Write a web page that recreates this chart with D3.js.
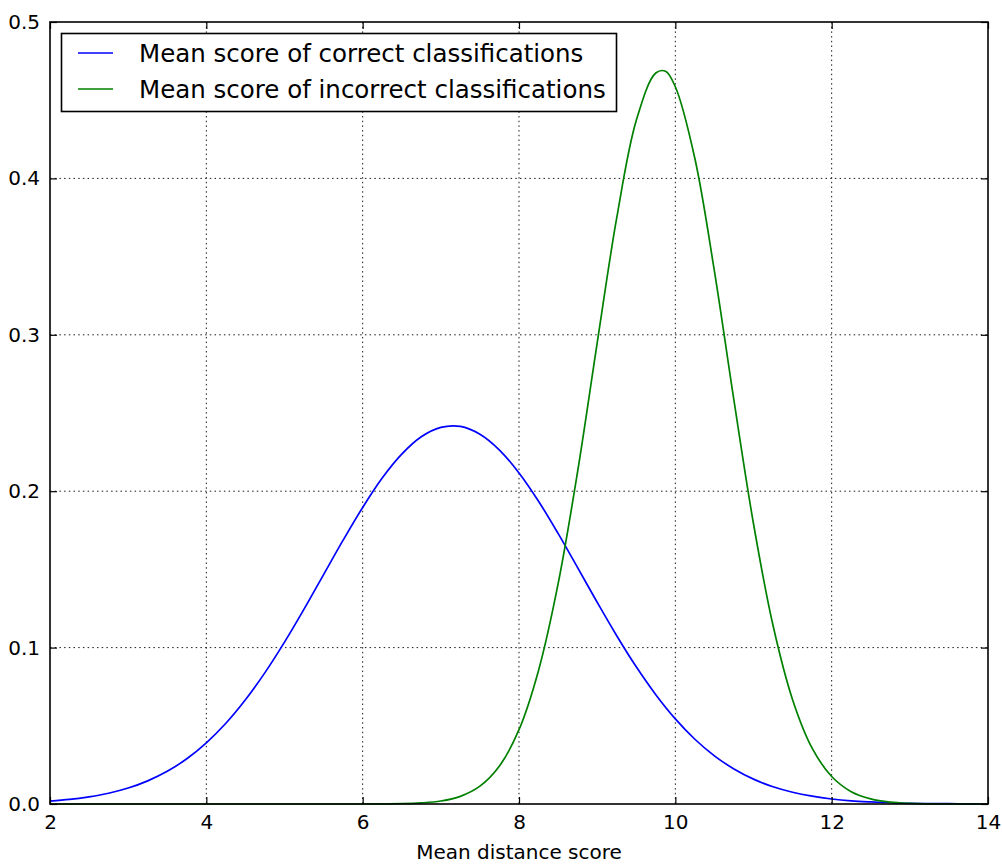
<!DOCTYPE html>
<html>
<head>
<meta charset="utf-8">
<script src="https://cdn.jsdelivr.net/npm/d3@7"></script>
<style>
  body { margin: 0; background: #fff; }
  svg text { font-family: "DejaVu Sans", sans-serif; fill: #000; }
</style>
</head>
<body>
<div id="chart"></div>
<script>
// values
const correctX = [2, 2.25, 2.5, 2.75, 3, 3.25, 3.5, 3.75, 4, 4.25, 4.5, 4.75, 5, 5.25, 5.5, 5.75,
  6, 6.25, 6.5, 6.75, 7, 7.25, 7.5, 7.75, 8, 8.25, 8.5, 8.75, 9, 9.25, 9.5, 9.75,
  10, 10.25, 10.5, 10.75, 11, 11.25, 11.5, 11.75, 12, 12.25, 12.5, 12.75, 13, 13.25, 13.5, 13.75, 14];
const correctY = [0.0019, 0.0029, 0.0046, 0.0069, 0.0102, 0.0148, 0.0209, 0.0289, 0.0391, 0.0516,
  0.0666, 0.0840, 0.1035, 0.1246, 0.1467, 0.1687, 0.1896, 0.2084, 0.2237, 0.2348, 0.2408, 0.2414,
  0.2364, 0.2263, 0.2117, 0.1936, 0.1730, 0.1511, 0.1290, 0.1076, 0.0877, 0.0699, 0.0544, 0.0414,
  0.0308, 0.0224, 0.0159, 0.0110, 0.0075, 0.0050, 0.0032, 0.0020, 0.0013, 0.0008, 0.0004, 0.0003,
  0.0002, 0.0001, 0.0000];

const incorrectX = [2, 3, 4, 5, 5.5, 6, 6.25, 6.5, 6.75, 7, 7.25, 7.5, 7.75, 8, 8.25, 8.5, 8.75,
  9, 9.25, 9.5, 9.75, 9.875, 10, 10.25, 10.5, 10.75, 11, 11.25, 11.5, 11.75, 12, 12.25, 12.5,
  12.75, 13, 13.25, 13.5, 14];
const incorrectY = [0, 0, 0, 0, 0, 0, 0.0001, 0.0002, 0.0007, 0.0019, 0.0049, 0.0114, 0.0243,
  0.0475, 0.0854, 0.1407, 0.2126, 0.2947, 0.3747, 0.4370, 0.4674, 0.4685, 0.4586, 0.4127, 0.3407,
  0.2580, 0.1792, 0.1141, 0.0667, 0.0357, 0.0176, 0.0079, 0.0033, 0.0012, 0.0004, 0.0001, 0, 0];

const xTicks = [2, 4, 6, 8, 10, 12, 14];
const yTicks = [0.0, 0.1, 0.2, 0.3, 0.4, 0.5];
const seriesNames = ["Mean score of correct classifications", "Mean score of incorrect classifications"];
const seriesColors = ["#0000ff", "#008000"];

const W = 1002, H = 864;
const margin = { top: 22, right: 14, bottom: 60, left: 50 };
const width = W - margin.left - margin.right,
  height = H - margin.top - margin.bottom;

const svg = d3.select("#chart").append("svg")
  .attr("width", W).attr("height", H);
const g = svg.append("g")
  .attr("transform", `translate(${margin.left},${margin.top})`);

const x = d3.scaleLinear().domain([2, 14]).range([0, width]);
const y = d3.scaleLinear().domain([0, 0.5]).range([height, 0]);

// dotted grid
g.append("g").selectAll("line")
  .data(xTicks.slice(1, -1)).enter().append("line")
  .attr("x1", d => x(d)).attr("x2", d => x(d))
  .attr("y1", 0).attr("y2", height)
  .attr("stroke", "#000").attr("stroke-width", 0.9)
  .attr("stroke-dasharray", "1.5,3.2");
g.append("g").selectAll("line")
  .data(yTicks.slice(1, -1)).enter().append("line")
  .attr("y1", d => y(d)).attr("y2", d => y(d))
  .attr("x1", 0).attr("x2", width)
  .attr("stroke", "#000").attr("stroke-width", 0.9)
  .attr("stroke-dasharray", "1.5,3.2");

// curves
const line = d3.line().curve(d3.curveCatmullRom.alpha(0.5))
  .x(d => x(d[0])).y(d => y(Math.max(0, d[1])));
const series = [
  d3.zip(correctX, correctY),
  d3.zip(incorrectX, incorrectY)
];
series.forEach((s, i) => {
  g.append("path").datum(s)
    .attr("d", line)
    .attr("fill", "none")
    .attr("stroke", seriesColors[i])
    .attr("stroke-width", 1.7);
});

// axes with inward ticks on all four sides
const tl = 7;
g.append("g").attr("transform", `translate(0,${height})`)
  .call(d3.axisBottom(x).tickValues(xTicks).tickSizeInner(-tl).tickSizeOuter(0).tickPadding(11)
    .tickFormat(d3.format("d")));
g.append("g")
  .call(d3.axisTop(x).tickValues(xTicks).tickSizeInner(-tl).tickSizeOuter(0).tickFormat(""));
g.append("g")
  .call(d3.axisLeft(y).tickValues(yTicks).tickSizeInner(-tl).tickSizeOuter(0).tickPadding(10)
    .tickFormat(d3.format(".1f")));
g.append("g").attr("transform", `translate(${width},0)`)
  .call(d3.axisRight(y).tickValues(yTicks).tickSizeInner(-tl).tickSizeOuter(0).tickFormat(""));

g.selectAll(".domain").remove();
g.selectAll(".tick line").attr("stroke", "#000").attr("stroke-width", 1.2);
g.selectAll(".tick text").style("font-size", "20px").attr("fill", "#000");

// frame
g.append("rect")
  .attr("width", width).attr("height", height)
  .attr("fill", "none").attr("stroke", "#000").attr("stroke-width", 1.6);

// x axis title
svg.append("text")
  .attr("x", margin.left + width / 2).attr("y", 859)
  .attr("text-anchor", "middle")
  .style("font-size", "20px")
  .text("Mean distance score");

// legend
const legend = svg.append("g");
legend.append("rect")
  .attr("x", 61.5).attr("y", 33.5).attr("width", 555).attr("height", 78)
  .attr("fill", "#fff").attr("stroke", "#000").attr("stroke-width", 1.6);
seriesNames.forEach((name, i) => {
  const ly = 53 + i * 36;
  legend.append("line")
    .attr("x1", 78).attr("x2", 113).attr("y1", ly).attr("y2", ly)
    .attr("stroke", seriesColors[i]).attr("stroke-width", 1.7);
  legend.append("text")
    .attr("x", 139).attr("y", ly + 8.5)
    .style("font-size", "24.5px")
    .text(name);
});
</script>
</body>
</html>
